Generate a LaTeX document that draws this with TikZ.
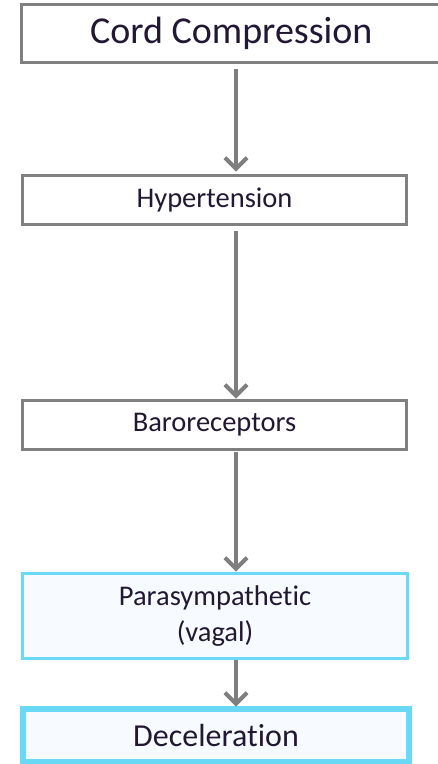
\documentclass[tikz,border=0pt]{standalone}
\usepackage{fontspec}
\setmainfont{Carlito}[Ligatures=NoCommon]
\usetikzlibrary{arrows.meta}
\definecolor{boxgray}{HTML}{808080}
\definecolor{arrowgray}{HTML}{7F7F7F}
\definecolor{txt}{HTML}{221833}
\definecolor{vagalblue}{HTML}{6AD9F6}
\definecolor{paleblue}{HTML}{F7FBFF}
\begin{document}
\begin{tikzpicture}[x=1pt,y=-1pt,
  stepbox/.style={draw=boxgray,line width=3pt,fill=white,rectangle,inner sep=0pt,outer sep=0pt,text=txt,align=center},
  bluebox/.style={stepbox,draw=vagalblue,fill=paleblue},
  flow/.style={draw=arrowgray,line width=4pt,-{Straight Barb[length=11pt,width=22pt]}},
  mid/.style={font=\fontsize{28.5}{36}\selectfont}]
\useasboundingbox (0,0) rectangle (438,764);
\begin{scope}
\clip (0,0) rectangle (438,764);
\node[stepbox,minimum width=419.5pt,minimum height=58pt,font=\fontsize{38}{44}\selectfont] (cord) at (231.25,33.5) {Cord Compression};
\node[stepbox,mid,minimum width=384pt,minimum height=49pt] (hyper) at (214.5,200) {Hypertension};
\node[stepbox,mid,minimum width=384pt,minimum height=49pt] (baro) at (214.5,425) {Baroreceptors};
\node[bluebox,mid,minimum width=385pt,minimum height=85pt] (para) at (215,616) {Parasympathetic\\(vagal)};
\node[bluebox,line width=6pt,minimum width=386pt,minimum height=53pt,font=\fontsize{32}{38}\selectfont] (decel) at (216,735) {Deceleration};
\coordinate (axis) at (236,0);
\draw[flow,shorten <=6pt,shorten >=4pt] (cord.south -| axis) -- (hyper.north -| axis);
\draw[flow,shorten <=6pt,shorten >=2pt] (hyper.south -| axis) -- (baro.north -| axis);
\draw[flow,shorten <=2pt,shorten >=2pt] (baro.south -| axis) -- (para.north -| axis);
\draw[flow,shorten <=1pt,shorten >=2pt] (para.south -| axis) -- (decel.north -| axis);
\end{scope}
\end{tikzpicture}
\end{document}
